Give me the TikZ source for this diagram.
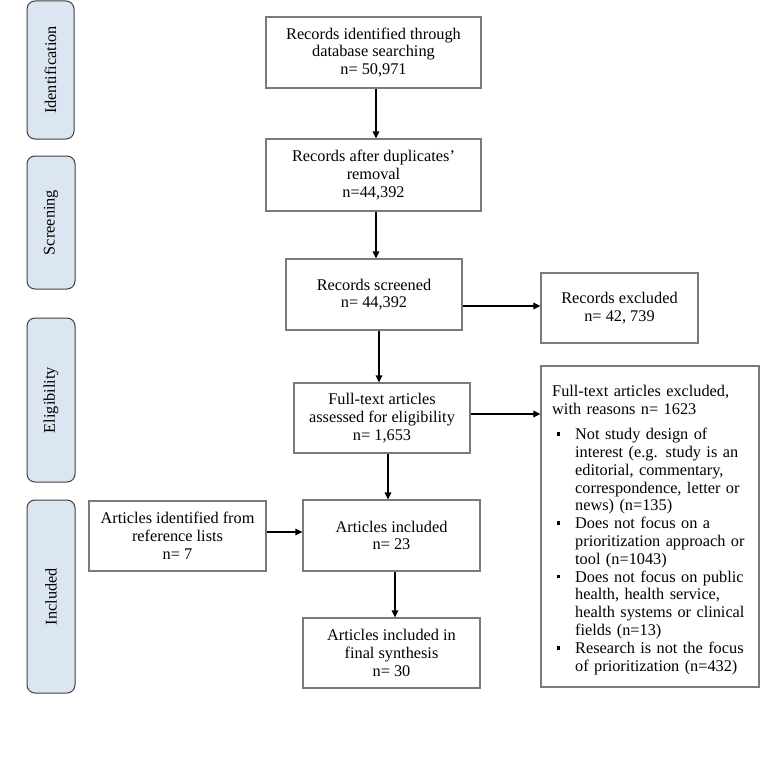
\documentclass[tikz,border=0pt]{standalone}
\usepackage{fontspec}
\setmainfont{Liberation Serif}
\usetikzlibrary{arrows.meta}
\definecolor{sidefill}{HTML}{DCE6F2}
\definecolor{sidedraw}{HTML}{404040}
\definecolor{boxdraw}{HTML}{7A7A7A}
\newcommand{\bodyfont}{\fontsize{16.3bp}{17.8bp}\selectfont}
\newcommand{\bul}{\noindent\llap{\rule[0.22em]{3.2bp}{3.6bp}\hspace{14.8bp}}}
\tikzset{
  flowbox/.style={draw=boxdraw, line width=1.2bp, fill=white, align=center, font=\bodyfont, inner sep=0pt},
  sidebox/.style={draw=sidedraw, line width=1bp, fill=sidefill, rounded corners=8bp, rotate=90, font=\bodyfont, inner sep=0pt},
  arr/.style={-{Triangle[length=7bp,width=6.5bp]}, line width=1.3bp, black},
}
\begin{document}
\begin{tikzpicture}[x=1bp,y=-1bp]
\useasboundingbox (0,0) rectangle (762,767);
% side labels
\node[sidebox, minimum width=138bp, minimum height=47bp] (sid) at (50.5,70) {Identification};
\node[sidebox, minimum width=133bp, minimum height=48bp] (sscr) at (51,222.5) {Screening};
\node[sidebox, minimum width=164bp, minimum height=48bp] (selig) at (51,400) {Eligibility};
\node[sidebox, minimum width=193bp, minimum height=48bp] (sincl) at (51,596.5) {Included};
% main boxes
\node[flowbox, minimum width=215bp, minimum height=71bp] (b1) at (373.5,52.5) {Records identified through\\database searching\\n= 50,971};
\node[flowbox, minimum width=215bp, minimum height=72bp] (b2) at (373.5,175) {Records after duplicates’\\removal\\n=44,392};
\node[flowbox, minimum width=176bp, minimum height=71bp] (b3) at (374,294.5) {Records screened\\n= 44,392};
\node[flowbox, minimum width=157bp, minimum height=70bp] (excl) at (619.5,308) {Records excluded\\n= 42, 739};
\node[flowbox, minimum width=176bp, minimum height=70bp] (b4) at (382,418) {Full-text articles\\assessed for eligibility\\n= 1,653};
\node[flowbox, minimum width=177bp, minimum height=71bp] (b5) at (391.5,535.5) {Articles included\\n= 23};
\node[flowbox, minimum width=177bp, minimum height=70bp] (ref) at (177.5,536) {Articles identified from\\reference lists\\n= 7};
\node[flowbox, minimum width=177bp, minimum height=70bp] (b6) at (391.5,653) {Articles included in\\final synthesis\\n= 30};
\node[flowbox, minimum width=218bp, minimum height=321bp] (exf) at (650,526.5) {};
\node[anchor=north west, inner sep=0pt, text width=205bp, font=\bodyfont] (exftext) at (552,385) {%
\setlength{\parskip}{0pt}%
Full-text articles excluded,\newline with reasons n= 1623\par
\vspace{7.5bp}%
\leftskip=23bp
\bul Not study design of\newline interest (e.g. study is an\newline editorial, commentary,\newline correspondence, letter or\newline news) (n=135)\par
\bul Does not focus on a\newline prioritization approach or\newline tool (n=1043)\par
\bul Does not focus on public\newline health, health service,\newline health systems or clinical\newline fields (n=13)\par
\bul Research is not the focus\newline of prioritization (n=432)\par};
% arrows
\draw[arr] ([xshift=2.5bp]b1.south) -- ([xshift=2.5bp]b1.south |- b2.north);
\draw[arr] ([xshift=2.5bp]b2.south) -- ([xshift=2.5bp]b2.south |- b3.north);
\draw[arr] ([xshift=5bp]b3.south) -- ([xshift=5bp]b3.south |- b4.north);
\draw[arr] ([xshift=6bp]b4.south) -- ([xshift=6bp]b4.south |- b5.north);
\draw[arr] ([xshift=3.5bp]b5.south) -- ([xshift=3.5bp]b5.south |- b6.north);
\coordinate (e1) at ([yshift=2bp]excl.west);
\draw[arr] (b3.east |- e1) -- (e1);
\draw[arr] ([yshift=4bp]b4.east) -- ([yshift=4bp]b4.east -| exf.west);
\draw[arr] ([yshift=4bp]ref.east) -- ([yshift=4bp]ref.east -| b5.west);
\end{tikzpicture}
\end{document}
